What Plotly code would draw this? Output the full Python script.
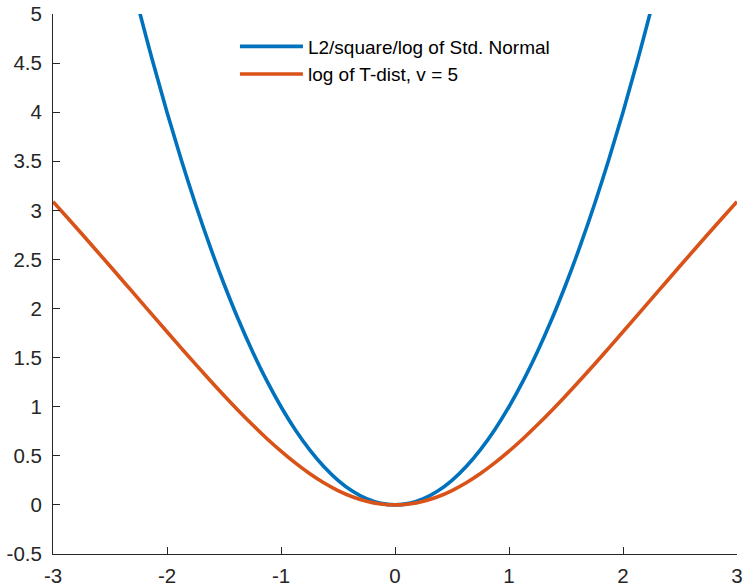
import plotly.graph_objects as go

# Blue: L2 / square / -log of standard normal
x_norm = [-2.25, -2.125, -2.0, -1.875, -1.75, -1.625, -1.5, -1.375, -1.25, -1.125, -1.0,
          -0.875, -0.75, -0.625, -0.5, -0.375, -0.25, -0.125, 0.0,
          0.125, 0.25, 0.375, 0.5, 0.625, 0.75, 0.875, 1.0, 1.125, 1.25, 1.375,
          1.5, 1.625, 1.75, 1.875, 2.0, 2.125, 2.25]
y_norm = [5.0625, 4.5156, 4.0, 3.5156, 3.0625, 2.6406, 2.25, 1.8906, 1.5625, 1.2656, 1.0,
          0.7656, 0.5625, 0.3906, 0.25, 0.1406, 0.0625, 0.0156, 0.0,
          0.0156, 0.0625, 0.1406, 0.25, 0.3906, 0.5625, 0.7656, 1.0, 1.2656, 1.5625, 1.8906,
          2.25, 2.6406, 3.0625, 3.5156, 4.0, 4.5156, 5.0625]

# Orange: -log of Student t, v = 5
x_t = [-3.0, -2.875, -2.75, -2.625, -2.5, -2.375, -2.25, -2.125, -2.0, -1.875, -1.75,
       -1.625, -1.5, -1.375, -1.25, -1.125, -1.0, -0.875, -0.75, -0.625, -0.5,
       -0.375, -0.25, -0.125, 0.0,
       0.125, 0.25, 0.375, 0.5, 0.625, 0.75, 0.875, 1.0, 1.125, 1.25, 1.375,
       1.5, 1.625, 1.75, 1.875, 2.0, 2.125, 2.25, 2.375, 2.5, 2.625, 2.75, 2.875, 3.0]
y_t = [3.0889, 2.9272, 2.7638, 2.5989, 2.4328, 2.2656, 2.0981, 1.9305, 1.7634, 1.5974, 1.4334,
       1.2722, 1.1147, 0.9621, 0.8158, 0.6769, 0.5470, 0.4274, 0.3198, 0.2257, 0.1464,
       0.0832, 0.0373, 0.0094, 0.0,
       0.0094, 0.0373, 0.0832, 0.1464, 0.2257, 0.3198, 0.4274, 0.5470, 0.6769, 0.8158, 0.9621,
       1.1147, 1.2722, 1.4334, 1.5974, 1.7634, 1.9305, 2.0981, 2.2656, 2.4328, 2.5989, 2.7638,
       2.9272, 3.0889]

names = ["L2/square/log of Std. Normal", "log of T-dist, v = 5"]
colors = ["#0072BD", "#D95319"]

x_ticks = [-3, -2, -1, 0, 1, 2, 3]
y_ticks = [-0.5, 0, 0.5, 1, 1.5, 2, 2.5, 3, 3.5, 4, 4.5, 5]

FONT = "Liberation Sans, Arial, sans-serif"

fig = go.Figure()
fig.add_trace(go.Scatter(x=x_norm, y=y_norm, mode="lines", name=names[0],
                         line=dict(color=colors[0], width=3.6, shape="spline")))
fig.add_trace(go.Scatter(x=x_t, y=y_t, mode="lines", name=names[1],
                         line=dict(color=colors[1], width=3.6, shape="spline")))

axis_common = dict(
    showgrid=False, zeroline=False, showline=True, linecolor="#262626", linewidth=1,
    ticks="inside", ticklen=7, tickwidth=1, tickcolor="#262626", mirror=False,
    tickfont=dict(family=FONT, size=20.5, color="#262626"), automargin=False,
)

fig.update_layout(
    width=744, height=587,
    margin=dict(l=53, r=7, t=14, b=33, autoexpand=False),
    paper_bgcolor="white", plot_bgcolor="white",
    showlegend=True,
    legend=dict(x=0.266, y=0.975, xanchor="left", yanchor="top",
                bgcolor="rgba(0,0,0,0)", borderwidth=0, itemwidth=63,
                font=dict(family=FONT, size=19, color="#000000"),
                tracegroupgap=0),
    xaxis=dict(range=[-3, 3], tickvals=x_ticks, ticktext=[str(v) for v in x_ticks],
               ticklabelstandoff=3, **axis_common),
    yaxis=dict(range=[-0.5, 5], tickvals=y_ticks, ticktext=[f"{v:g}" for v in y_ticks],
               ticklabelstandoff=6, **axis_common),
)

fig.write_html("out.html")
